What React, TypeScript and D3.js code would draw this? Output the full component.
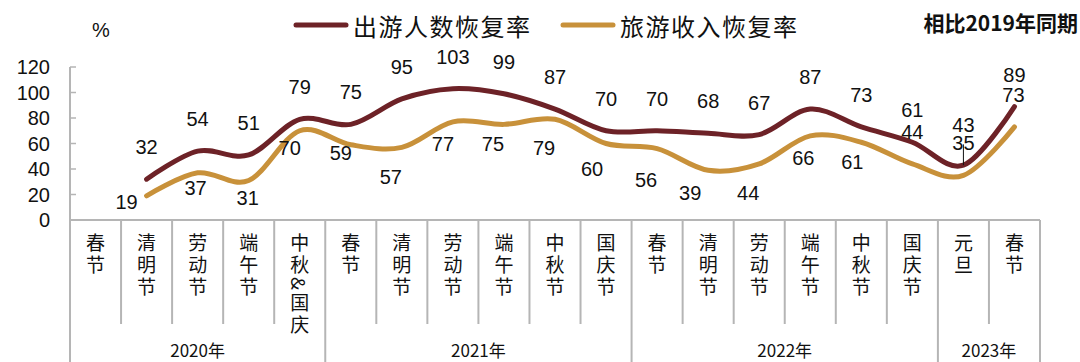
import React from 'react';
import * as d3 from 'd3';

// categories (holiday, year group)
const holidays = [
  '春节', '清明节', '劳动节', '端午节', '中秋&国庆',
  '春节', '清明节', '劳动节', '端午节', '中秋节', '国庆节',
  '春节', '清明节', '劳动节', '端午节', '中秋节', '国庆节',
  '元旦', '春节',
];
const years = ['2020年', '2021年', '2022年', '2023年'];
const yearSizes = [5, 6, 6, 2];

// 出游人数恢复率 / 旅游收入恢复率 (% vs same period 2019)
const tripValues = [null, 32, 54, 51, 79, 75, 95, 103, 99, 87, 70, 70, 68, 67, 87, 73, 61, 43, 89];
const incomeValues = [null, 19, 37, 31, 70, 59, 57, 77, 75, 79, 60, 56, 39, 44, 66, 61, 44, 35, 73];
const yTicks = [0, 20, 40, 60, 80, 100, 120];

const seriesNames = ['出游人数恢复率', '旅游收入恢复率'];
const colors = ['#6d2227', '#c8913a'];

// label nudges (layout only)
const tripLabelDy = [0, -32, -32, -32, -32, -32, -32, -32, -32, -32, -32, -32, -32, -32, -32, -32, -32, -40, -32];
const incomeLabelDx = [0, -20, -2, -1, -10, -10, -11, -10, -11, -11, -14, -11, -18, -11, -7, -9, 0, 0, -1];
const incomeLabelDy = [0, 6, 15, 18, 17, 8, 30, 22, 20, 29, 25, 31, 23, 29, 22, 20, -32, -32, -32];

const W = 1080, H = 362;
const left = 70, right = 1040, top = 67, base = 220;
const numFont = '"Liberation Sans", "Noto Sans CJK SC", sans-serif';
const cjkFont = '"Noto Sans CJK SC", sans-serif';
const axisColor = '#b5b5b5';

export default function App() {
  const x = d3.scaleBand<number>().domain(d3.range(holidays.length)).range([left, right]).padding(0);
  const y = d3.scaleLinear().domain([0, 120]).range([base, top]);
  const cx = (i: number) => (x(i) as number) + x.bandwidth() / 2;

  const line = d3.line<number | null>()
    .defined(d => d != null)
    .x((d, i) => cx(i))
    .y(d => y(d as number))
    .curve(d3.curveCardinal.tension(0));

  // year boundaries
  const bounds: number[] = [0];
  yearSizes.forEach(s => bounds.push(bounds[bounds.length - 1] + s));
  const xAt = (i: number) => (i >= holidays.length ? right : (x(i) as number));

  return (
    <svg width={W} height={H} style={{ position: 'absolute', left: 0, top: 0, background: '#fff' }}>
      {/* legend */}
      {seriesNames.map((n, k) => {
        const lx = k === 0 ? 296 : 563;
        return (
          <g key={n}>
            <line x1={lx} x2={lx + 50} y1={25} y2={25} stroke={colors[k]} strokeWidth={5} strokeLinecap="round" />
            <text x={lx + 57} y={25} dominantBaseline="central" fontFamily={cjkFont} fontSize={24} letterSpacing={1.5} fill="#111">{n}</text>
          </g>
        );
      })}
      <text x={101} y={30} textAnchor="middle" dominantBaseline="central" fontFamily={numFont} fontSize={20} fill="#111">%</text>
      <text x={1078} y={22} textAnchor="end" dominantBaseline="central" fontFamily={cjkFont} fontSize={21} fontWeight="bold" fill="#111">相比2019年同期</text>

      {/* y axis */}
      <line x1={left} x2={left} y1={top} y2={H} stroke={axisColor} strokeWidth={2} />
      {yTicks.map(t => (
        <g key={t}>
          {t > 0 && <line x1={left} x2={left + 6} y1={y(t)} y2={y(t)} stroke={axisColor} strokeWidth={1.5} />}
          <text x={50} y={y(t)} textAnchor="end" dominantBaseline="central" fontFamily={numFont} fontSize={20} fill="#111">{t}</text>
        </g>
      ))}

      {/* category axis */}
      <line x1={left} x2={right} y1={base} y2={base} stroke={axisColor} strokeWidth={2} />
      {d3.range(1, holidays.length + 1).map(i => (
        <line key={i} x1={xAt(i)} x2={xAt(i)} y1={base} y2={bounds.includes(i) ? H : 324} stroke={axisColor} strokeWidth={2} />
      ))}
      {holidays.map((h, i) => (
        <text key={i} x={cx(i)} y={233} style={{ writingMode: 'vertical-rl' }} fontFamily={cjkFont} fontSize={19} letterSpacing={3} fill="#111">{h}</text>
      ))}
      {years.map((yr, k) => (
        <text key={yr} x={(xAt(bounds[k]) + xAt(bounds[k + 1])) / 2} y={349} textAnchor="middle" dominantBaseline="central" fontFamily={cjkFont} fontSize={17} fill="#111">{yr}</text>
      ))}

      {/* lines */}
      <path d={line(incomeValues) as string} fill="none" stroke={colors[1]} strokeWidth={5} strokeLinecap="round" />
      <path d={line(tripValues) as string} fill="none" stroke={colors[0]} strokeWidth={5} strokeLinecap="round" />

      {/* leader for 35 */}
      <line x1={cx(17)} x2={cx(17)} y1={y(incomeValues[17] as number) - 31} y2={y(tripValues[17] as number)} stroke="#111" strokeWidth={1} />

      {/* labels */}
      {tripValues.map((v, i) => v == null ? null : (
        <text key={'t' + i} x={cx(i)} y={y(v) + tripLabelDy[i]} textAnchor="middle" dominantBaseline="central" fontFamily={numFont} fontSize={20} fill="#111">{v}</text>
      ))}
      {incomeValues.map((v, i) => v == null ? null : (
        <text key={'r' + i} x={cx(i) + incomeLabelDx[i]} y={y(v) + incomeLabelDy[i]} textAnchor="middle" dominantBaseline="central" fontFamily={numFont} fontSize={20} fill="#111">{v}</text>
      ))}
    </svg>
  );
}
